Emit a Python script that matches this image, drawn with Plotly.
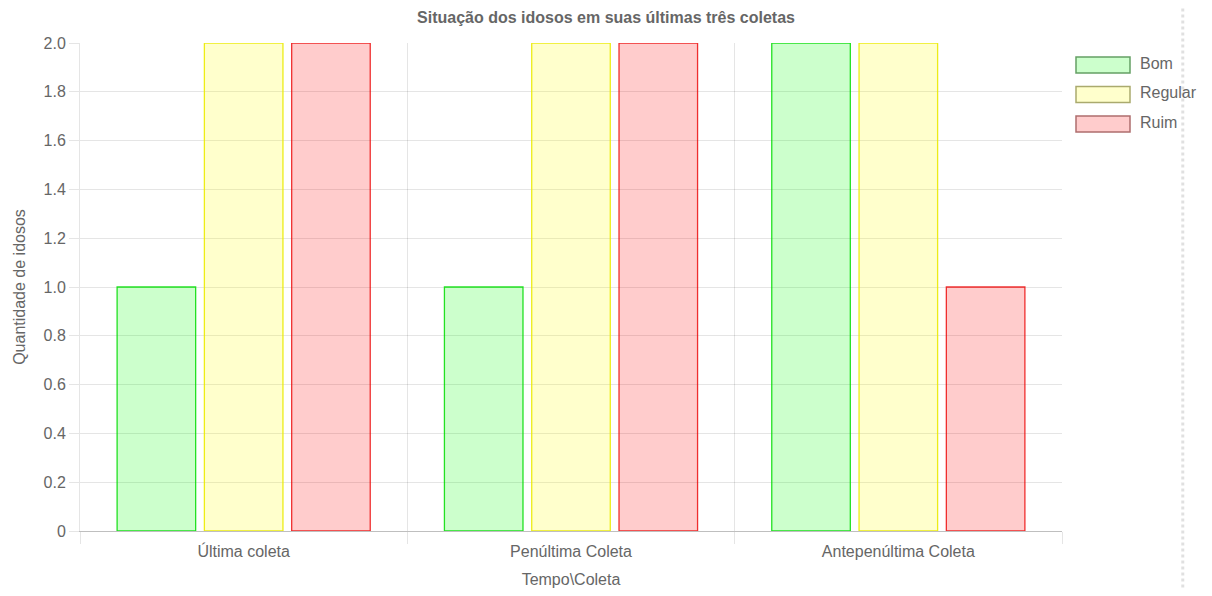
import plotly.graph_objects as go

# dados do gráfico
categorias = ['Última coleta', 'Penúltima Coleta', 'Antepenúltima Coleta']
bom = [1, 1, 2]
regular = [2, 2, 2]
ruim = [2, 2, 1]

y_ticks = [0, 0.2, 0.4, 0.6, 0.8, 1.0, 1.2, 1.4, 1.6, 1.8, 2.0]
y_labels = ['0', '0.2', '0.4', '0.6', '0.8', '1.0', '1.2', '1.4', '1.6', '1.8', '2.0']

FONTE = 'Liberation Sans, Arial, Helvetica, sans-serif'
CINZA = '#666'
GRADE = 'rgba(0,0,0,0.1)'

series = [
    ('Bom', bom, 'rgba(0,255,0,0.2)', 'rgba(0,220,0,0.85)', 'rgb(100,160,100)'),
    ('Regular', regular, 'rgba(255,255,0,0.2)', 'rgba(235,235,0,0.9)', 'rgb(170,170,110)'),
    ('Ruim', ruim, 'rgba(255,0,0,0.2)', 'rgba(235,0,0,0.8)', 'rgb(175,110,110)'),
]

fig = go.Figure()
for nome, valores, preenchimento, borda, _ in series:
    fig.add_trace(go.Bar(
        x=categorias,
        y=valores,
        name=nome,
        marker=dict(color=preenchimento, line=dict(color=borda, width=1.3)),
        hoverinfo='x+y+name'
    ))

# legenda desenhada à mão (caixas largas, como no Chart.js)
ALT = 488.0  # altura da área do gráfico em px
shapes = []
annotations = []
for i, (nome, _, preenchimento, _, borda_leg) in enumerate(series):
    topo = 14 + i * 29.5
    shapes.append(dict(
        type='rect', xref='paper', yref='paper',
        x0=996 / 982, x1=1050 / 982,
        y0=1 - (topo + 16) / ALT, y1=1 - topo / ALT,
        fillcolor=preenchimento, line=dict(color=borda_leg, width=1.5)
    ))
    annotations.append(dict(
        text=nome, xref='paper', yref='paper',
        x=1058 / 982, y=1 - (topo + 6) / ALT,
        xanchor='left', yanchor='middle', showarrow=False,
        font=dict(size=16, color=CINZA)
    ))

shapes.append(dict(
    type='line', xref='paper', yref='paper',
    x0=1.123, x1=1.123, y0=-0.3, y1=1.3,
    line=dict(color='rgba(0,0,0,0.12)', width=3, dash='dot')
))

fig.update_layout(
    width=1196,
    height=580,
    barmode='group',
    bargap=0.2,
    bargroupgap=0.1,
    showlegend=False,
    paper_bgcolor='white',
    plot_bgcolor='white',
    font=dict(family=FONTE, size=16, color=CINZA),
    margin=dict(l=72, r=142, t=35, b=57, autoexpand=False),
    title=dict(
        text='<b>Situação dos idosos em suas últimas três coletas</b>',
        x=0.5, xref='container', xanchor='center',
        y=1 - 9 / 580, yref='container', yanchor='middle',
        font=dict(size=16, color=CINZA)
    ),
    xaxis=dict(
        type='category',
        automargin=False,
        tickson='boundaries',
        ticks='outside', ticklen=12, tickcolor=GRADE,
        ticklabelstandoff=6,
        showgrid=True, gridcolor=GRADE,
        showline=True, linecolor='rgba(0,0,0,0.25)', linewidth=1,
        title=dict(text='Tempo\\Coleta', standoff=21, font=dict(size=16, color=CINZA)),
        tickfont=dict(size=16, color=CINZA),
        range=[-0.5, 2.5]
    ),
    yaxis=dict(
        range=[0, 2],
        automargin=False,
        tickvals=y_ticks, ticktext=y_labels,
        ticks='outside', ticklen=10, tickcolor=GRADE,
        showgrid=True, gridcolor=GRADE,
        showline=True, linecolor=GRADE,
        zeroline=False,
        title=dict(text='Quantidade de idosos', standoff=13, font=dict(size=16, color=CINZA)),
        tickfont=dict(size=16, color=CINZA)
    ),
    shapes=shapes,
    annotations=annotations
)

fig.write_html('out.html')
